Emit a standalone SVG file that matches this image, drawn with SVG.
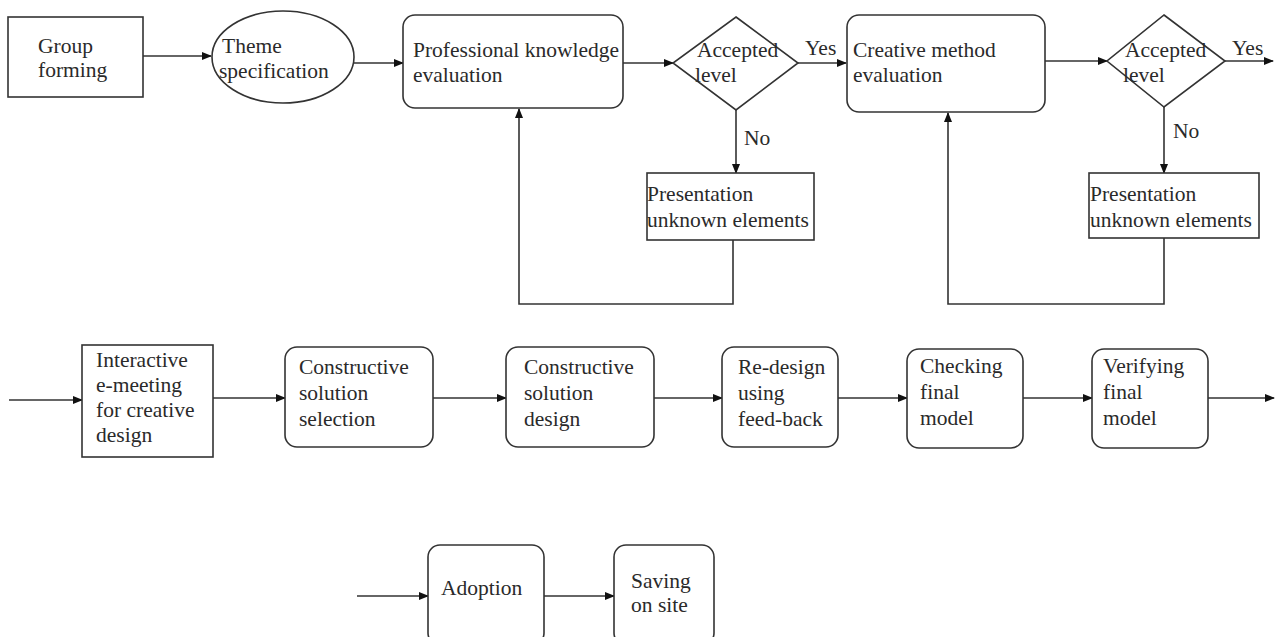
<svg xmlns="http://www.w3.org/2000/svg" width="1278" height="637" viewBox="0 0 1278 637">
<style>
.n{fill:#fff;stroke:#333;stroke-width:1.6}
.c{fill:none;stroke:#333;stroke-width:1.6}
text{font-family:"Liberation Serif","Times New Roman",serif;font-size:21.5px;fill:#2a2a2a}
</style>
<defs>
<marker id="ah" markerWidth="10" markerHeight="8" refX="9" refY="4" orient="auto" markerUnits="userSpaceOnUse">
<path d="M0,0 L10,4 L0,8 Z" fill="#111"/>
</marker>
</defs>
<rect width="1278" height="637" fill="#fff"/>
<g id="connectors">
<line class="c" x1="143" y1="56" x2="211" y2="56" marker-end="url(#ah)"/>
<line class="c" x1="354" y1="63" x2="403" y2="63" marker-end="url(#ah)"/>
<line class="c" x1="623" y1="63" x2="673" y2="63" marker-end="url(#ah)"/>
<line class="c" x1="798" y1="63" x2="846" y2="63" marker-end="url(#ah)"/>
<line class="c" x1="736" y1="110" x2="736" y2="173" marker-end="url(#ah)"/>
<polyline class="c" points="733,240 733,304 519,304 519,109" marker-end="url(#ah)"/>
<line class="c" x1="1045" y1="61" x2="1107" y2="61" marker-end="url(#ah)"/>
<line class="c" x1="1225" y1="61" x2="1273" y2="61" marker-end="url(#ah)"/>
<line class="c" x1="1164" y1="107" x2="1164" y2="173" marker-end="url(#ah)"/>
<polyline class="c" points="1164,238 1164,304 948,304 948,113" marker-end="url(#ah)"/>
<line class="c" x1="9" y1="400" x2="82" y2="400" marker-end="url(#ah)"/>
<line class="c" x1="213" y1="398" x2="285" y2="398" marker-end="url(#ah)"/>
<line class="c" x1="433" y1="398" x2="506" y2="398" marker-end="url(#ah)"/>
<line class="c" x1="654" y1="398" x2="722" y2="398" marker-end="url(#ah)"/>
<line class="c" x1="838" y1="398" x2="907" y2="398" marker-end="url(#ah)"/>
<line class="c" x1="1023" y1="398" x2="1092" y2="398" marker-end="url(#ah)"/>
<line class="c" x1="1208" y1="398" x2="1274" y2="398" marker-end="url(#ah)"/>
<line class="c" x1="357" y1="596" x2="428" y2="596" marker-end="url(#ah)"/>
<line class="c" x1="544" y1="596" x2="614" y2="596" marker-end="url(#ah)"/>
<text x="805" y="55">Yes</text>
<text x="744" y="145">No</text>
<text x="1232" y="55">Yes</text>
<text x="1173" y="138">No</text>
</g>
<g id="group-forming">
<rect class="n" x="8" y="17" width="135" height="80"/>
<text x="38" y="53">Group</text>
<text x="38" y="77">forming</text>
</g>
<g id="theme-specification">
<ellipse class="n" cx="283" cy="57" rx="71" ry="46"/>
<text x="222" y="53">Theme</text>
<text x="219" y="78">specification</text>
</g>
<g id="professional-knowledge">
<rect class="n" x="403" y="15" width="220" height="93" rx="12"/>
<text x="413" y="57">Professional knowledge</text>
<text x="413" y="82">evaluation</text>
</g>
<g id="accepted-level-1">
<polygon class="n" points="736,17 798,63 736,110 673,63"/>
<text x="697" y="57">Accepted</text>
<text x="695" y="82">level</text>
</g>
<g id="presentation-1">
<rect class="n" x="647" y="173" width="167" height="67"/>
<text x="647" y="201">Presentation</text>
<text x="647" y="227">unknown elements</text>
</g>
<g id="creative-method">
<rect class="n" x="847" y="15" width="198" height="97" rx="12"/>
<text x="853" y="57">Creative method</text>
<text x="853" y="82">evaluation</text>
</g>
<g id="accepted-level-2">
<polygon class="n" points="1164,15 1225,61 1164,107 1107,61"/>
<text x="1125" y="57">Accepted</text>
<text x="1123" y="82">level</text>
</g>
<g id="presentation-2">
<rect class="n" x="1089" y="173" width="170" height="65"/>
<text x="1090" y="201">Presentation</text>
<text x="1090" y="227">unknown elements</text>
</g>
<g id="interactive-e-meeting">
<rect class="n" x="82" y="345" width="131" height="112"/>
<text x="96" y="367">Interactive</text>
<text x="96" y="392">e-meeting</text>
<text x="96" y="417">for creative</text>
<text x="96" y="442">design</text>
</g>
<g id="constructive-selection">
<rect class="n" x="285" y="347" width="148" height="100" rx="12"/>
<text x="299" y="374">Constructive</text>
<text x="299" y="400">solution</text>
<text x="299" y="426">selection</text>
</g>
<g id="constructive-design">
<rect class="n" x="506" y="347" width="148" height="100" rx="12"/>
<text x="524" y="374">Constructive</text>
<text x="524" y="400">solution</text>
<text x="524" y="426">design</text>
</g>
<g id="re-design">
<rect class="n" x="722" y="347" width="116" height="100" rx="12"/>
<text x="738" y="374">Re-design</text>
<text x="738" y="400">using</text>
<text x="738" y="426">feed-back</text>
</g>
<g id="checking-final">
<rect class="n" x="907" y="349" width="116" height="99" rx="12"/>
<text x="920" y="373">Checking</text>
<text x="920" y="399">final</text>
<text x="920" y="425">model</text>
</g>
<g id="verifying-final">
<rect class="n" x="1092" y="349" width="116" height="99" rx="12"/>
<text x="1103" y="373">Verifying</text>
<text x="1103" y="399">final</text>
<text x="1103" y="425">model</text>
</g>
<g id="adoption">
<rect class="n" x="428" y="545" width="116" height="100" rx="12"/>
<text x="441" y="595">Adoption</text>
</g>
<g id="saving-on-site">
<rect class="n" x="614" y="545" width="100" height="100" rx="12"/>
<text x="631" y="588">Saving</text>
<text x="631" y="612">on site</text>
</g>
</svg>
